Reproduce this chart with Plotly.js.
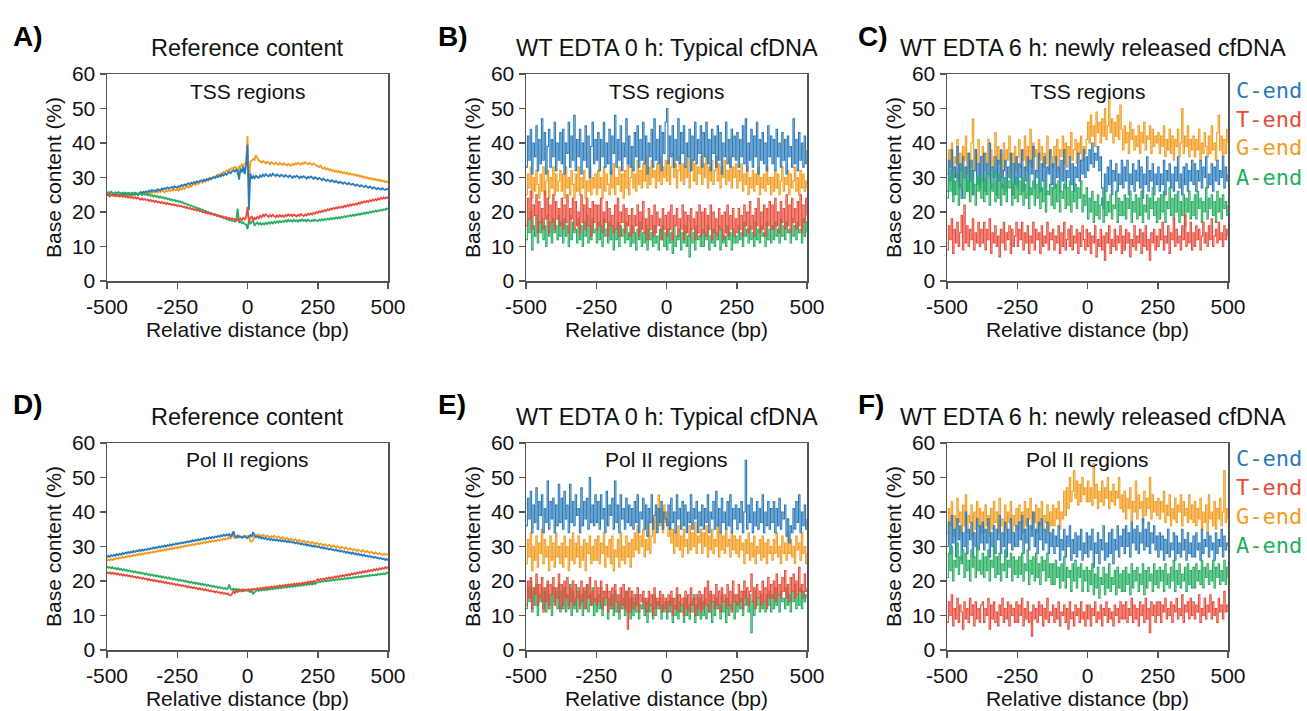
<!DOCTYPE html>
<html><head><meta charset="utf-8">
<script src="https://cdn.plot.ly/plotly-3.0.1.min.js"></script>
<style>html,body{margin:0;padding:0;background:#fff}#chart{width:1307px;height:711px}</style>
</head><body><div id="chart"></div><script>
// Relative distance positions (bp), 5-bp bins from -500 to 500
const positions = Array.from({length: 201}, (_, i) => -500 + 5 * i);
const xTickVals = [-500, -250, 0, 250, 500];
const xTickText = ['-500', '-250', '0', '250', '500'];
const seriesNames = ['C-end', 'T-end', 'G-end', 'A-end'];

// ---------- A) Reference content, TSS regions ----------
const refTssC = [24.8,25.1,24.6,25.0,24.9,25.3,24.7,25.2,25.0,24.8,25.4,25.1,24.9,25.3,25.0,25.5,25.2,24.9,25.4,25.1,25.6,25.3,25.0,25.5,25.8,
25.4,25.9,25.6,26.0,25.7,26.2,25.9,26.4,26.1,26.3,26.0,26.6,26.4,26.2,26.8,26.5,26.9,26.7,27.1,26.8,27.0,27.3,26.9,27.4,27.2,
27.0,27.5,27.3,27.8,27.5,28.0,27.7,28.1,28.3,28.0,28.5,28.2,28.7,28.4,28.9,28.6,29.0,29.2,28.9,29.4,29.1,29.6,29.3,29.8,29.5,
29.9,30.2,29.8,30.4,30.1,30.6,30.3,30.9,30.6,31.1,30.8,31.3,31.6,31.2,31.8,32.1,31.7,32.3,32.0,29.4,32.6,31.5,33.2,31.0,33.5,
39.5,20.5,31.2,29.6,30.4,29.8,30.5,30.1,29.9,30.6,30.2,30.8,30.4,31.0,30.6,30.3,30.9,30.5,31.1,30.7,30.4,30.9,30.6,30.3,30.8,
30.5,30.2,30.7,30.4,30.1,30.6,30.3,29.9,30.4,30.1,30.5,30.2,29.8,30.3,30.0,30.4,30.1,29.7,30.2,29.9,30.3,30.0,29.6,30.1,29.8,
29.5,29.9,29.6,29.2,29.7,29.3,29.0,29.4,29.1,28.8,29.2,28.9,28.6,29.0,28.7,28.4,28.8,28.5,28.2,28.6,28.3,28.0,28.4,28.1,27.9,
28.2,27.9,27.6,28.0,27.7,27.4,27.8,27.5,27.2,27.6,27.3,27.0,27.4,27.1,26.8,27.2,26.9,26.6,27.0,26.7,26.5,26.9,26.6,26.4,26.7,
26.5];
const refTssT = [25.2,24.8,25.3,24.9,25.1,24.7,25.0,24.6,24.9,24.5,24.8,24.4,24.7,24.3,24.6,24.2,24.5,24.1,24.4,24.0,24.3,23.9,24.2,23.8,23.6,
23.9,23.5,23.8,23.4,23.6,23.2,23.5,23.1,23.3,22.9,23.2,22.8,23.0,22.6,22.9,22.5,22.7,22.3,22.6,22.2,22.4,22.0,22.3,21.9,22.1,
21.7,22.0,21.6,21.8,21.4,21.6,21.2,21.4,21.0,21.2,20.8,21.0,20.6,20.8,20.4,20.6,20.2,20.3,19.9,20.1,19.7,19.9,19.5,19.7,19.3,
19.5,19.1,19.3,18.9,19.1,18.7,18.9,18.5,18.7,18.3,18.5,18.1,18.3,17.9,18.2,17.8,18.0,17.6,17.9,17.5,18.1,17.6,18.3,17.9,18.5,
21.5,17.0,18.2,18.8,17.6,18.3,17.9,18.6,18.2,18.9,18.5,19.2,18.8,19.3,18.9,18.6,19.1,18.7,19.2,18.8,18.5,19.0,18.6,19.1,18.7,
19.0,18.6,19.1,18.8,19.3,18.9,19.2,18.8,19.3,19.0,18.7,19.2,18.9,19.4,19.1,18.8,19.3,19.0,19.5,19.2,19.6,19.3,19.8,19.5,20.0,
19.7,20.2,19.9,20.4,20.1,20.6,20.3,20.8,20.5,21.0,20.7,21.2,20.9,21.3,21.0,21.5,21.2,21.6,21.3,21.8,21.5,22.0,21.7,22.2,21.9,
22.3,22.0,22.5,22.2,22.7,22.4,22.9,22.6,23.1,22.8,23.2,22.9,23.4,23.1,23.6,23.3,23.7,23.4,23.9,23.6,24.1,23.8,24.2,23.9,24.3,
24.0];
const refTssG = [25.2,24.8,25.4,25.0,24.7,25.3,24.9,25.1,24.6,25.2,24.8,25.0,25.3,24.9,25.1,24.7,25.2,25.0,24.8,25.3,25.1,25.4,24.9,25.2,25.5,
25.1,25.4,25.7,25.3,25.6,25.2,25.8,25.5,25.9,25.6,26.0,25.7,26.1,25.8,26.2,26.0,25.7,26.3,26.0,26.4,26.1,26.5,26.2,26.6,26.3,
26.5,26.2,26.8,26.5,27.0,26.7,27.2,27.5,27.1,27.7,27.4,27.9,28.2,27.8,28.4,28.1,28.6,28.9,28.5,29.1,28.8,29.4,29.1,29.6,29.9,
29.7,30.2,30.0,30.6,30.9,30.5,31.2,31.0,31.6,31.4,32.0,31.8,32.4,32.2,32.8,32.6,33.1,32.9,30.8,33.4,33.0,33.8,33.4,34.0,34.3,
42.0,26.0,34.6,34.9,35.4,35.1,36.5,35.6,35.0,34.7,34.3,34.8,34.5,34.1,34.6,34.3,33.9,34.4,34.1,33.8,34.3,34.0,33.7,34.2,33.9,
33.6,34.1,33.8,33.5,34.0,33.7,33.4,33.9,33.6,34.1,33.8,34.3,34.0,33.7,34.2,33.9,34.4,34.1,33.8,34.3,34.0,33.7,34.1,33.8,33.5,
33.3,33.0,33.4,32.8,32.5,32.9,32.3,32.6,32.1,32.4,31.9,32.2,31.7,32.0,31.6,31.9,31.4,31.7,31.2,31.5,31.1,31.4,30.9,31.2,30.8,
31.0,30.6,30.9,30.4,30.7,30.2,30.5,30.0,30.3,29.8,30.1,29.7,29.9,29.5,29.8,29.3,29.6,29.2,29.4,29.0,29.3,28.8,29.1,28.6,28.9,
28.5];
const refTssA = [25.3,25.8,25.4,25.9,25.5,25.2,25.7,25.4,25.8,25.5,25.2,25.6,25.3,25.7,25.4,25.1,25.5,25.2,25.6,25.3,25.0,25.4,25.1,25.5,25.2,
24.9,25.3,25.0,25.2,24.8,25.1,24.7,24.9,24.5,24.8,24.4,24.6,24.2,24.5,24.1,24.3,23.9,24.1,23.7,23.9,23.5,23.7,23.3,23.5,23.1,
23.3,22.9,23.1,22.7,22.8,22.4,22.5,22.1,22.2,21.8,21.9,21.5,21.6,21.2,21.3,20.9,21.0,20.6,20.7,20.3,20.4,20.0,20.1,19.7,19.8,
19.4,19.5,19.1,19.2,18.8,18.9,18.5,18.6,18.2,18.3,17.9,18.0,17.6,17.8,17.4,17.6,17.2,17.4,21.0,16.9,17.2,16.8,17.0,16.5,16.4,
15.0,17.5,16.5,17.2,17.6,16.0,16.6,17.0,16.4,16.8,16.3,16.7,16.4,16.9,16.5,17.0,16.6,17.1,16.7,17.2,16.8,17.3,16.9,17.4,17.0,
17.4,17.1,17.6,17.2,17.7,17.3,17.6,17.2,17.7,17.3,17.6,17.2,17.7,17.4,17.8,17.4,17.7,17.3,17.8,17.5,17.3,17.7,17.4,17.8,17.5,
17.4,17.8,17.5,17.9,17.6,18.0,17.7,18.1,17.8,18.2,17.9,18.3,18.0,18.4,18.1,18.5,18.2,18.6,18.4,18.8,18.5,18.9,18.7,19.1,18.8,
19.2,18.9,19.3,19.1,19.5,19.2,19.6,19.4,19.8,19.5,19.9,19.7,20.1,19.8,20.2,20.0,20.4,20.1,20.5,20.3,20.7,20.4,20.8,20.6,21.0,
20.9];

// ---------- B) WT EDTA 0 h, TSS regions ----------
const h0TssC = [33,42,35,44,31,40,36,45,32,41,34,47,35,43,31,39,44,33,41,36,46,32,40,35,43,
34,44,31,40,37,46,33,42,35,48,32,41,36,44,31,40,35,45,33,42,30,39,46,34,41,
35,43,32,41,36,46,33,40,34,44,31,42,37,48,33,41,35,45,32,40,36,47,34,42,33,
39,32,43,36,45,33,41,35,46,34,42,31,40,36,44,33,47,35,41,34,45,32,43,37,46,
50,34,42,36,45,33,41,35,47,34,43,37,45,33,40,36,44,32,42,35,46,34,41,37,45,
33,43,36,46,34,41,32,44,37,42,33,45,35,43,31,40,36,46,34,41,33,44,36,42,35,
43,33,41,36,45,34,47,32,40,35,44,33,42,36,46,31,41,35,43,34,40,32,45,36,42,
34,41,32,44,36,40,33,43,35,41,31,42,36,39,33,47,34,41,32,43,35,40,33,42,34,
38];
const h0TssT = [16,24,18,26,15,22,19,25,14,23,17,21,15,26,18,24,14,22,17,25,15,23,18,21,16,
24,15,22,17,25,14,21,18,24,15,23,16,20,14,25,17,22,15,24,16,21,13,23,17,22,
15,22,16,24,14,20,17,23,13,21,16,19,14,22,15,24,13,20,17,22,14,21,16,19,13,
21,14,19,16,22,13,20,15,23,14,18,12,21,15,19,13,22,14,20,16,18,12,21,15,19,
13,20,15,22,12,19,16,21,13,18,15,22,12,20,14,19,13,21,15,18,12,20,14,22,13,
20,14,21,13,19,15,22,12,20,14,18,13,21,15,19,12,20,14,22,13,19,15,21,13,18,
14,21,15,19,13,22,16,20,14,23,15,19,13,21,16,24,14,20,15,22,13,21,16,23,15,
22,15,24,16,20,14,23,17,21,15,25,16,22,14,24,17,21,15,23,16,25,14,22,17,24,
19];
const h0TssG = [25,31,27,33,24,30,26,32,28,24,31,26,33,25,29,32,24,30,27,33,25,31,26,29,32,
26,31,24,33,27,30,25,32,28,24,31,26,33,25,30,27,32,24,29,26,33,25,30,27,31,
25,32,27,30,24,33,26,31,28,25,32,27,34,25,30,28,33,26,31,24,32,27,34,25,30,
33,27,31,26,35,28,32,27,34,29,36,27,33,28,35,30,32,27,34,29,36,28,33,30,35,
29,35,28,33,37,30,34,27,32,36,29,34,28,33,30,36,27,32,35,29,34,28,33,31,36,
28,34,30,36,27,33,29,35,28,32,36,29,34,27,33,30,35,28,32,29,36,27,33,30,34,
27,32,29,34,26,31,28,33,25,30,27,32,26,31,28,33,25,30,27,31,26,33,28,30,25,
30,26,32,27,31,25,29,33,26,30,28,32,25,31,27,29,33,26,30,25,32,27,31,26,29,
27];
const h0TssA = [12,18,14,20,9,16,13,19,11,17,14,18,12,16,10,19,13,17,11,18,14,16,12,19,13,
17,11,18,13,16,10,19,12,17,14,15,11,18,12,16,10,17,13,19,11,16,12,18,14,15,
11,17,12,16,10,18,13,15,11,17,12,16,9,15,12,17,10,16,13,15,11,17,12,14,10,
16,11,14,9,15,12,17,10,14,11,16,9,15,12,14,10,16,11,13,9,15,12,16,10,14,
9,15,11,14,8,16,10,13,12,15,9,14,11,16,10,13,7,15,11,14,9,16,12,13,10,
15,10,14,12,16,9,13,11,15,10,14,12,16,9,15,11,13,10,16,12,14,9,15,11,13,
11,16,12,14,10,17,13,15,11,16,12,14,10,17,12,15,11,16,13,14,10,17,12,15,11,
16,12,17,13,15,11,18,13,16,12,17,14,15,11,18,13,16,12,17,14,15,11,18,13,17,
14];

// ---------- C) WT EDTA 6 h, TSS regions ----------
const h6TssC = [26,35,29,38,25,33,30,39,27,34,24,36,30,33,26,37,29,35,25,32,38,28,34,27,36,
29,37,26,34,31,40,27,33,30,36,25,35,29,38,27,32,35,26,33,30,37,25,34,28,36,
27,34,30,38,26,33,29,36,25,35,31,39,27,32,30,37,26,34,29,36,25,33,31,38,28,
34,27,36,30,33,26,35,29,38,27,32,30,36,28,34,26,33,30,37,29,35,31,38,30,36,
32,38,34,40,33,37,35,39,32,36,27,21,31,26,33,28,35,25,32,29,34,26,31,28,35,
27,33,29,35,25,31,28,34,26,32,29,35,27,33,24,31,28,36,26,32,29,34,25,31,28,
33,26,31,28,35,25,32,29,34,27,31,26,33,29,36,27,31,25,33,28,34,26,32,29,35,
28,34,26,32,29,35,27,33,30,36,27,31,28,34,26,33,29,35,28,32,30,36,27,33,29,
31];
const h6TssT = [9,16,12,18,8,15,11,17,10,14,19,9,22,11,16,10,15,12,18,9,14,11,17,10,15,
11,17,9,15,12,18,8,14,11,16,10,13,7,15,11,17,9,14,12,16,8,15,10,13,17,
10,15,12,17,9,14,11,16,8,13,11,17,9,15,12,14,8,16,10,13,11,17,9,14,12,
15,9,13,11,16,8,14,10,17,9,12,15,10,16,9,13,11,15,8,14,10,16,12,9,15,
10,14,8,13,11,16,7,12,10,15,9,13,6,14,11,16,8,12,10,15,9,13,11,16,8,
13,9,15,11,14,7,12,10,16,9,13,11,15,8,14,10,16,9,12,6,14,11,15,9,13,
10,15,12,17,9,13,11,16,8,14,12,18,10,15,11,13,9,16,12,19,10,14,11,17,9,
14,10,16,12,15,9,13,17,11,14,10,16,12,18,10,13,15,11,17,12,14,10,16,12,15,
13];
const h6TssG = [31,38,33,40,30,36,34,41,29,37,32,39,35,42,31,37,33,40,47,32,38,34,41,30,36,
39,32,37,34,41,30,38,33,36,43,31,39,34,37,30,40,33,38,35,42,31,37,34,39,32,
36,41,33,38,35,42,32,39,34,44,33,40,36,38,32,41,35,39,33,37,34,42,32,38,36,
33,39,35,41,32,38,36,42,34,40,33,39,36,43,35,38,41,34,40,37,42,35,39,37,41,
46,40,48,42,45,39,49,43,46,40,47,42,50,41,45,53,43,47,40,46,42,48,41,51,44,
38,45,40,43,37,46,41,44,38,42,39,45,37,43,40,46,38,42,41,45,37,44,39,42,40,
43,37,42,39,45,36,41,38,44,37,42,35,41,39,44,36,40,50,37,42,39,45,36,41,38,
42,36,41,38,44,35,40,37,43,39,36,42,37,45,38,40,35,43,48,38,42,36,41,37,44,
40];
const h6TssA = [24,30,26,32,23,29,25,31,22,28,27,33,24,30,26,29,23,32,25,28,22,30,26,31,24,
29,23,30,25,31,22,28,26,32,23,29,24,31,22,28,25,30,23,29,27,31,22,28,24,30,
23,29,25,30,22,28,24,31,21,27,25,29,22,28,24,30,21,27,23,29,20,26,25,28,22,
27,21,28,23,29,20,26,24,28,21,27,22,29,20,26,23,28,21,27,24,29,20,25,22,27,
18,24,20,26,17,23,19,25,18,22,24,17,26,19,23,20,25,18,22,21,26,17,24,19,23,
19,25,18,24,21,26,17,23,20,25,18,24,19,26,17,22,20,25,18,24,21,27,19,23,17,
24,18,25,20,26,17,23,21,27,19,24,18,25,20,26,17,23,19,25,16,24,20,26,18,23,
19,25,18,26,21,24,17,23,20,27,18,24,21,25,19,23,17,26,20,24,18,25,21,23,19,
22];

// ---------- D) Reference content, Pol II regions ----------
const refPolC = [26.8,27.3,27.0,27.5,27.2,27.6,27.3,27.8,27.5,27.9,27.6,28.1,27.8,28.2,28.0,28.4,28.1,28.5,28.3,28.7,28.4,28.8,28.6,29.0,28.7,
29.1,28.8,29.2,29.0,29.4,29.1,29.5,29.3,29.7,29.4,29.8,29.6,30.0,29.7,30.1,29.9,30.3,30.0,30.4,30.2,30.6,30.3,30.7,30.5,30.9,
30.6,31.0,30.8,31.2,30.9,31.3,31.1,31.5,31.2,31.6,31.4,31.8,31.5,31.9,31.7,32.1,31.8,32.2,32.0,32.4,32.1,32.5,32.3,32.7,32.4,
32.8,32.5,32.9,32.7,33.1,32.8,33.2,33.0,33.4,33.1,33.5,33.2,33.6,32.9,33.3,34.4,33.0,32.6,33.1,32.7,32.9,32.5,32.8,33.0,32.6,
32.4,32.9,33.3,32.8,34.2,33.1,32.7,33.0,32.5,32.8,32.3,32.6,32.2,32.5,32.0,32.3,31.9,32.2,31.8,32.1,31.7,32.0,31.6,31.9,31.5,
31.8,31.4,31.7,31.3,31.6,31.2,31.5,31.1,31.3,30.9,31.2,30.8,31.0,30.6,30.9,30.5,30.7,30.3,30.6,30.2,30.4,30.0,30.3,29.9,30.1,
29.8,30.0,29.6,29.8,29.4,29.7,29.3,29.5,29.1,29.4,29.0,29.2,28.8,29.1,28.7,28.9,28.5,28.8,28.4,28.6,28.2,28.5,28.1,28.3,27.9,
28.2,27.8,28.0,27.6,27.9,27.5,27.7,27.3,27.6,27.2,27.4,27.0,27.3,26.9,27.1,26.7,27.0,26.6,26.8,26.4,26.7,26.3,26.5,26.1,26.4,
26.0];
const refPolT = [22.6,22.2,22.5,22.1,22.4,22.0,22.3,21.9,22.2,21.8,22.0,21.6,21.9,21.5,21.8,21.4,21.6,21.2,21.5,21.1,21.3,20.9,21.2,20.8,21.0,
20.6,20.9,20.5,20.7,20.3,20.6,20.2,20.4,20.0,20.3,19.9,20.1,19.7,20.0,19.6,19.8,19.4,19.7,19.3,19.5,19.1,19.4,19.0,19.2,18.8,
19.1,18.7,18.9,18.5,18.8,18.4,18.6,18.2,18.5,18.1,18.3,17.9,18.2,17.8,18.0,17.6,17.9,17.5,17.7,17.3,17.6,17.2,17.4,17.0,17.3,
16.9,17.1,16.7,17.0,16.6,16.8,16.4,16.7,16.3,16.5,16.2,16.4,16.0,15.8,16.3,17.0,16.5,17.2,16.8,17.1,17.4,17.0,17.6,17.2,17.5,
17.2,17.6,17.3,17.7,17.4,17.8,17.5,17.9,17.6,18.0,17.7,18.1,17.8,18.2,17.9,18.3,18.0,18.4,18.1,18.5,18.2,18.6,18.3,18.7,18.4,
18.8,18.5,18.9,18.6,19.0,18.7,19.1,18.8,19.2,18.9,19.3,19.0,19.4,19.1,19.5,19.2,19.6,19.3,19.8,19.4,19.9,19.6,20.0,19.7,20.1,
20.5,20.2,20.6,20.3,20.7,20.4,20.9,20.6,21.0,20.7,21.1,20.8,21.3,21.0,21.4,21.1,21.6,21.3,21.7,21.4,21.9,21.6,22.0,21.7,22.2,
21.9,22.3,22.0,22.5,22.2,22.6,22.3,22.8,22.5,22.9,22.6,23.1,22.8,23.2,22.9,23.4,23.1,23.5,23.2,23.7,23.4,23.8,23.5,24.0,23.7,
24.1];
const refPolG = [25.9,26.2,26.0,26.4,26.1,26.5,26.3,26.7,26.4,26.8,26.6,27.0,26.7,27.1,26.9,27.3,27.0,27.4,27.2,27.6,27.3,27.7,27.5,27.9,27.6,
28.0,27.7,28.1,27.9,28.3,28.0,28.4,28.2,28.6,28.3,28.7,28.5,28.9,28.6,29.0,28.8,29.2,28.9,29.3,29.1,29.5,29.2,29.6,29.4,29.8,
29.5,29.9,29.7,30.1,29.8,30.2,30.0,30.4,30.1,30.5,30.3,30.7,30.4,30.8,30.6,31.0,30.7,31.1,30.9,31.3,31.0,31.4,31.2,31.6,31.3,
31.7,31.4,31.8,31.6,32.0,31.7,32.1,31.9,32.3,32.0,32.4,32.2,32.6,32.3,33.9,32.7,32.4,33.0,32.6,33.2,32.8,32.5,33.0,32.7,33.1,
32.8,33.2,31.6,31.4,31.9,33.0,33.4,33.1,33.5,33.2,33.0,33.4,33.1,32.8,33.2,32.9,32.6,33.0,32.7,33.1,32.8,32.5,32.9,32.6,32.3,
32.7,32.4,32.1,32.5,32.2,31.9,32.3,32.0,31.7,32.1,31.8,31.5,31.9,31.6,31.3,31.7,31.4,31.1,31.5,31.2,30.9,31.3,31.0,30.7,31.1,
30.8,30.5,30.9,30.6,30.3,30.7,30.4,30.1,30.5,30.2,29.9,30.3,30.0,29.7,30.1,29.8,29.5,29.9,29.6,29.3,29.7,29.4,29.1,29.5,29.2,
28.9,29.3,29.0,28.7,29.1,28.8,28.5,28.9,28.6,28.3,28.7,28.4,28.1,28.5,28.2,27.9,28.3,28.0,27.7,28.1,27.8,27.5,27.9,27.6,27.8,
27.5];
const refPolA = [24.2,23.8,24.1,23.7,24.0,23.6,23.8,23.4,23.7,23.3,23.5,23.1,23.4,23.0,23.2,22.8,23.1,22.7,22.9,22.5,22.8,22.4,22.6,22.2,22.5,
22.1,22.3,21.9,22.2,21.8,22.0,21.6,21.9,21.5,21.7,21.3,21.6,21.2,21.4,21.0,21.3,20.9,21.1,20.7,21.0,20.6,20.8,20.4,20.7,20.3,
20.5,20.1,20.4,20.0,20.2,19.8,20.1,19.7,19.9,19.5,19.8,19.4,19.6,19.2,19.5,19.1,19.3,18.9,19.2,18.8,19.0,18.6,18.9,18.5,18.7,
18.3,18.6,18.2,18.4,18.0,18.3,17.9,18.1,17.7,18.0,17.6,17.8,19.0,17.7,17.5,17.8,17.4,17.7,17.3,17.6,17.2,17.5,17.1,17.4,17.2,
17.5,17.0,16.8,17.2,16.3,16.7,17.1,17.5,17.1,17.5,17.2,17.6,17.3,17.7,17.4,17.8,17.5,17.9,17.6,18.0,17.7,18.1,17.8,18.2,17.9,
18.3,18.0,18.4,18.1,18.5,18.2,18.6,18.3,18.7,18.4,18.8,18.5,18.9,18.6,19.0,18.7,19.1,18.8,19.2,18.9,19.3,19.0,19.4,19.1,19.5,
19.6,19.9,19.7,20.0,19.8,20.1,19.9,20.2,20.0,20.3,20.1,20.4,20.2,20.5,20.3,20.6,20.4,20.7,20.5,20.8,20.6,20.9,20.7,21.0,20.8,
21.1,20.9,21.2,21.0,21.3,21.1,21.4,21.2,21.5,21.3,21.6,21.4,21.7,21.5,21.8,21.6,21.9,21.7,22.0,21.8,22.1,21.9,22.2,22.0,22.3,
22.5];

// ---------- E) WT EDTA 0 h, Pol II regions ----------
const h0PolC = [36,44,38,46,34,42,37,47,35,43,39,45,34,41,37,49,35,43,38,44,34,42,36,48,37,
44,35,46,38,42,34,48,37,43,36,45,39,41,34,47,36,43,38,44,35,50,37,42,36,45,
37,43,35,45,38,41,34,46,36,42,39,44,35,49,37,42,34,45,38,41,35,44,37,42,36,
41,35,43,37,45,34,40,38,44,35,42,33,41,37,45,35,39,42,34,41,37,43,35,40,38,
36,42,35,44,37,40,34,45,38,41,35,43,36,42,34,40,37,45,35,41,38,43,34,40,36,
42,35,41,37,45,34,40,38,43,35,46,36,41,34,44,37,40,35,43,36,45,34,41,38,42,
35,41,37,43,34,40,55,35,42,37,44,34,40,36,43,35,41,37,45,34,40,36,43,35,41,
37,43,34,41,36,44,35,40,38,42,33,38,31,36,34,41,35,43,37,45,34,40,36,42,35,
38];
const h0PolT = [13,20,15,21,12,18,16,22,13,19,15,21,11,18,14,20,12,19,16,21,13,18,15,22,12,
19,13,20,15,21,12,18,14,20,13,19,15,17,12,20,14,18,12,19,15,21,13,17,14,20,
13,18,14,20,12,17,15,19,11,17,13,18,12,19,14,16,11,18,13,19,12,17,6,18,11,
17,12,16,13,18,11,16,14,17,12,15,11,17,13,16,10,18,12,15,13,17,11,16,12,15,
11,16,13,17,10,15,12,18,11,16,13,15,10,17,12,16,11,18,13,15,10,16,12,17,11,
16,12,18,13,20,11,17,14,16,12,19,13,17,11,18,14,16,12,19,13,17,11,20,14,16,
13,19,14,17,12,20,15,18,13,17,22,14,18,12,19,15,17,13,20,14,18,12,21,15,19,
15,20,14,22,16,19,15,21,17,23,15,19,14,21,17,22,15,20,16,24,17,19,15,22,17,
18];
const h0PolG = [25,32,27,34,23,30,26,33,24,31,28,35,25,32,27,30,23,33,26,31,24,34,27,30,25,
31,24,33,27,30,23,32,26,34,25,31,27,33,24,30,26,32,23,31,28,33,25,30,26,32,
26,33,25,31,28,34,24,30,27,32,25,33,23,29,27,32,24,34,26,30,25,33,27,31,24,
32,27,34,29,36,28,33,30,35,27,32,29,37,28,33,38,31,40,35,45,36,41,34,42,37,
40,33,37,31,35,28,34,30,36,29,33,27,35,30,32,28,36,29,34,30,37,28,33,31,35,
28,34,30,36,27,33,29,35,28,32,30,36,27,34,29,33,28,35,30,32,27,34,29,33,28,
32,27,33,29,31,25,32,28,34,26,31,27,33,25,30,28,32,26,33,27,31,25,32,28,30,
26,32,28,34,27,30,25,33,28,31,26,34,28,32,27,30,25,33,29,31,26,34,28,30,25,
28];
const h0PolA = [12,18,14,20,11,17,13,19,10,16,14,18,12,17,11,19,13,16,10,18,14,17,12,19,11,
17,12,18,11,16,13,19,10,17,12,15,11,18,13,16,10,17,12,19,11,16,13,18,10,15,
11,16,12,18,10,15,13,17,9,15,12,16,10,17,11,14,9,16,12,15,10,17,11,15,9,
15,10,14,11,16,9,13,12,15,10,14,8,15,11,13,9,16,10,14,12,15,9,13,11,14,
9,14,11,15,8,13,10,16,9,14,11,13,8,15,10,13,9,14,11,16,8,13,10,15,9,
14,10,15,9,13,11,16,8,14,10,15,12,13,9,16,11,14,8,15,10,13,12,16,9,14,
11,16,12,15,10,17,13,15,11,16,5,14,10,17,13,15,11,16,12,14,11,16,13,17,11,
16,12,18,13,16,11,17,14,15,12,18,13,16,11,17,14,19,12,16,13,18,12,17,14,16,
15];

// ---------- F) WT EDTA 6 h, Pol II regions ----------
const h6PolC = [30,37,28,39,31,35,27,38,32,36,26,34,30,40,28,35,32,37,27,34,30,38,29,36,31,
37,29,35,31,38,27,34,30,36,28,35,32,39,28,34,30,37,27,35,31,38,29,34,30,36,
30,37,32,39,28,35,31,38,29,36,33,40,30,35,28,37,32,38,29,35,31,37,28,34,30,
35,28,33,30,36,26,32,29,35,27,33,30,36,26,32,28,34,27,33,29,35,26,31,28,34,
27,33,29,35,24,31,28,34,25,32,29,36,26,31,27,34,28,35,25,32,29,36,27,33,30,
35,28,36,30,34,27,37,31,35,29,36,28,34,31,38,29,35,30,37,28,34,31,36,29,33,
27,34,29,33,26,32,28,35,27,31,29,34,26,33,28,31,27,35,29,32,26,34,28,31,27,
33,27,34,29,31,26,35,28,32,30,34,27,33,29,31,26,34,28,32,30,35,27,33,29,31,
30];
const h6PolT = [8,14,10,16,7,12,9,15,8,13,11,6,14,9,12,8,15,10,13,7,14,9,12,8,13,
14,8,12,10,15,6,13,9,14,8,11,7,13,10,15,8,12,9,14,7,13,10,12,8,14,
8,13,10,15,7,12,9,14,8,11,4,13,9,12,8,14,10,13,7,12,9,15,8,11,10,
13,8,12,9,14,7,11,10,13,8,12,6,14,9,11,7,13,10,12,8,14,9,11,7,13,
9,13,7,12,10,14,8,11,9,13,7,12,10,14,8,12,9,11,7,13,10,12,8,14,9,
13,9,14,8,12,10,15,8,13,9,12,7,14,10,13,8,15,9,12,5,14,10,13,8,14,
10,14,8,13,11,15,9,12,10,14,8,13,11,15,9,12,10,16,8,13,11,14,9,15,10,
14,9,13,11,16,8,12,10,15,9,13,11,16,9,14,10,12,8,15,11,13,9,17,11,13,
11];
const h6PolG = [34,41,36,43,33,39,35,44,37,40,33,42,36,45,34,39,37,42,33,40,35,43,36,41,34,
40,34,42,36,39,33,41,35,43,37,40,34,44,36,38,33,42,35,40,37,43,34,39,36,41,
35,42,37,40,34,43,36,41,38,44,35,40,37,42,34,41,36,43,35,39,37,42,34,40,36,
42,36,41,38,43,35,40,38,46,39,47,41,50,43,46,52,44,49,42,48,43,50,45,47,43,
49,43,47,42,54,44,48,41,46,43,49,42,47,44,50,41,46,43,48,42,46,44,50,41,45,
40,46,38,44,41,47,37,43,40,49,38,45,41,43,37,46,39,44,41,50,38,45,40,43,39,
44,38,43,40,46,37,42,39,45,36,41,38,44,37,42,40,45,36,43,39,41,37,45,38,42,
37,43,36,41,38,44,35,40,37,42,34,45,38,40,36,43,35,41,38,44,36,40,52,37,41,
38];
const h6PolA = [21,28,23,30,20,26,24,31,22,27,25,29,21,28,23,26,20,29,24,27,21,30,23,26,22,
28,21,27,23,29,20,26,24,30,21,27,22,28,20,25,23,29,21,26,24,28,20,27,22,26,
21,27,22,28,20,25,23,29,19,26,22,27,20,28,21,25,19,27,23,26,20,28,21,25,19,
25,19,26,21,24,18,25,20,27,18,24,21,23,17,25,20,26,18,24,21,25,17,23,20,24,
17,23,19,25,16,22,18,24,15,21,19,24,16,22,18,25,17,21,19,23,16,24,18,22,17,
23,17,24,19,22,16,25,18,23,20,24,17,22,19,25,16,23,18,24,20,22,17,25,19,23,
18,24,20,23,17,25,19,22,18,24,20,26,17,23,19,25,18,22,20,24,17,25,19,23,18,
24,18,25,20,23,19,26,18,24,21,25,19,23,20,26,18,24,21,25,19,23,20,26,19,24,
21];

const panelLetters = ['A)', 'B)', 'C)', 'D)', 'E)', 'F)'];
const panelTitles = ['Reference content', 'WT EDTA 0 h: Typical cfDNA', 'WT EDTA 6 h: newly released cfDNA',
                     'Reference content', 'WT EDTA 0 h: Typical cfDNA', 'WT EDTA 6 h: newly released cfDNA'];
const regionLabels = ['TSS regions', 'TSS regions', 'TSS regions', 'Pol II regions', 'Pol II regions', 'Pol II regions'];
const panelSeries = [
  [refTssC, refTssT, refTssG, refTssA],
  [h0TssC, h0TssT, h0TssG, h0TssA],
  [h6TssC, h6TssT, h6TssG, h6TssA],
  [refPolC, refPolT, refPolG, refPolA],
  [h0PolC, h0PolT, h0PolG, h0PolA],
  [h6PolC, h6PolT, h6PolG, h6PolA]
];
const smoothPanels = [0, 3];

// ---------- styling / layout ----------
const W = 1307, H = 711;
const colors = ['#2b7bba', '#e74c3c', '#f39c1f', '#27ae60'];
const drawOrder = [2, 0, 3, 1]; // G, C, A, T (T on top)
const FONT = 'Liberation Sans, Arial, Helvetica, sans-serif';
const colX = [[107, 388], [526, 807], [947, 1228]];
const rowY = [[74, 281], [443, 650]];
const px = v => v / W;
const py = v => 1 - v / H;

const traces = [];
const layout = {
  width: W, height: H,
  margin: {l: 0, r: 0, t: 0, b: 0},
  paper_bgcolor: '#fff', plot_bgcolor: '#fff',
  showlegend: false,
  font: {family: FONT, color: '#111', size: 21},
  annotations: []
};

for (let p = 0; p < 6; p++) {
  const r = Math.floor(p / 3), c = p % 3;
  const n = p + 1;
  const xa = 'x' + (n === 1 ? '' : n), ya = 'y' + (n === 1 ? '' : n);
  const smooth = smoothPanels.includes(p);
  drawOrder.forEach(s => {
    traces.push({
      type: 'scatter', mode: 'lines', x: positions, y: panelSeries[p][s],
      xaxis: xa, yaxis: ya, name: seriesNames[s],
      line: smooth ? {color: colors[s], width: 1.8, simplify: false}
                   : {color: colors[s], width: 1.1, shape: 'hv', simplify: false},
      hoverinfo: 'x+y+name'
    });
  });
  const [x0, x1] = colX[c], [y0, y1] = rowY[r];
  layout['xaxis' + (n === 1 ? '' : n)] = {
    domain: [px(x0), px(x1)], anchor: ya, range: [-500, 500],
    tickvals: xTickVals, ticktext: xTickText,
    showline: true, mirror: true, linecolor: '#555', linewidth: 1.5,
    ticks: 'outside', ticklen: 6, tickcolor: '#555', tickwidth: 1.5,
    showgrid: false, zeroline: false,
    tickfont: {family: FONT, size: 21, color: '#111'},
    title: {text: 'Relative distance (bp)', font: {family: FONT, size: 21, color: '#111'}, standoff: 2}
  };
  layout['yaxis' + (n === 1 ? '' : n)] = {
    domain: [py(y1), py(y0)], anchor: xa, range: [0, 60], dtick: 10,
    showline: true, mirror: true, linecolor: '#555', linewidth: 1.5,
    ticks: 'outside', ticklen: 6, tickcolor: '#555', tickwidth: 1.5,
    showgrid: false, zeroline: false,
    tickfont: {family: FONT, size: 21, color: '#111'},
    title: {text: 'Base content (%)', font: {family: FONT, size: 21, color: '#111'}, standoff: 4}
  };
  // panel letter
  layout.annotations.push({
    xref: 'paper', yref: 'paper', x: px(c === 0 ? 11 : (c === 1 ? 436 : 856)), y: py(r === 0 ? 36 : 404),
    xanchor: 'left', yanchor: 'middle', showarrow: false,
    text: '<b>' + panelLetters[p] + '</b>', font: {family: FONT, size: 28, color: '#000'}
  });
  // panel title
  const titleX = c === 2 ? 1093 : (x0 + x1) / 2;
  layout.annotations.push({
    xref: 'paper', yref: 'paper', x: px(titleX), y: py(r === 0 ? 48 : 417),
    xanchor: 'center', yanchor: 'middle', showarrow: false,
    text: panelTitles[p], font: {family: FONT, size: 23.5, color: '#111'}
  });
  // region label inside plot
  layout.annotations.push({
    xref: 'paper', yref: 'paper', x: px((x0 + x1) / 2), y: py(r === 0 ? 91 : 459),
    xanchor: 'center', yanchor: 'middle', showarrow: false,
    text: regionLabels[p], font: {family: FONT, size: 21, color: '#111'}
  });
}

// Legend labels to the right of panels C and F
const legendRows = [[90, 119, 148, 177], [458, 487, 516, 545]];
legendRows.forEach(rows => {
  rows.forEach((yv, s) => {
    layout.annotations.push({
      xref: 'paper', yref: 'paper', x: px(1234), y: py(yv),
      xanchor: 'left', yanchor: 'middle', showarrow: false,
      text: seriesNames[s], font: {family: 'DejaVu Sans Mono, Liberation Mono, monospace', size: 22, color: colors[s]}
    });
  });
});

Plotly.newPlot('chart', traces, layout, {displayModeBar: false, staticPlot: true});
</script></body></html>
